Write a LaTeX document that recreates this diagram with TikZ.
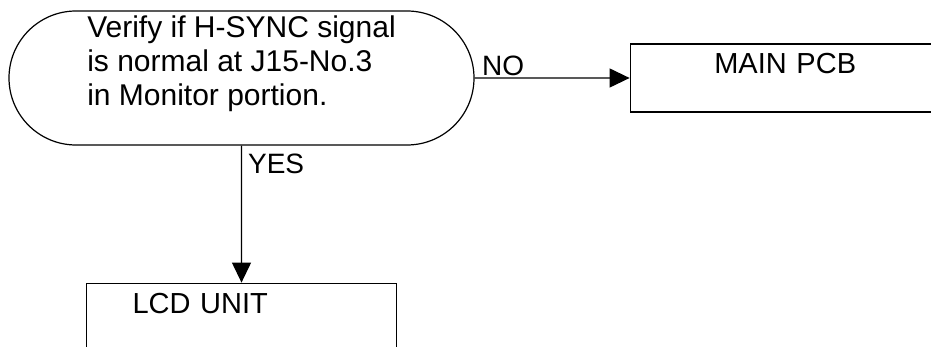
\documentclass[tikz,border=0pt]{standalone}
\usepackage{fontspec}
\setmainfont{Liberation Sans}
\usetikzlibrary{shapes.misc,arrows.meta,positioning}

\begin{document}
\begin{tikzpicture}[
    x=1pt, y=-1pt,
    node distance=137pt,
    font=\fontsize{29}{34}\selectfont,
    test/.style={draw, rounded rectangle, minimum width=465pt, minimum height=134pt, align=left, line width=1.2pt, inner sep=0pt, font=\fontsize{30}{34}\selectfont},
    unit/.style={draw, minimum width=310pt, text width=218pt, text height=30pt, text depth=38pt, inner sep=0pt, line width=1.2pt},
    arr/.style={-{Triangle[length=20pt,width=19pt]}, line width=1.2pt},
    lbl/.style={font=\fontsize{28}{32}\selectfont, inner sep=2pt},
]
\useasboundingbox (0,0) rectangle (931,347);

% Check step
\node[test] (hsync) at (241.5,78) {Verify if H-SYNC signal\\is normal at J15-No.3\\in Monitor portion.\\[0pt]\mbox{}};

% Results
\node[unit, align=center, right=155pt of hsync] (mainpcb) {MAIN PCB};
\node[unit, align=left, below=of hsync] (lcd) {LCD UNIT};

% Arrows
\draw[arr] (hsync) -- node[lbl, pos=0, anchor=south west, xshift=5pt]{NO} (mainpcb);
\draw[arr] (hsync) -- node[lbl, pos=0, anchor=north west, xshift=4pt, yshift=-6pt]{YES} (lcd);
\end{tikzpicture}
\end{document}
